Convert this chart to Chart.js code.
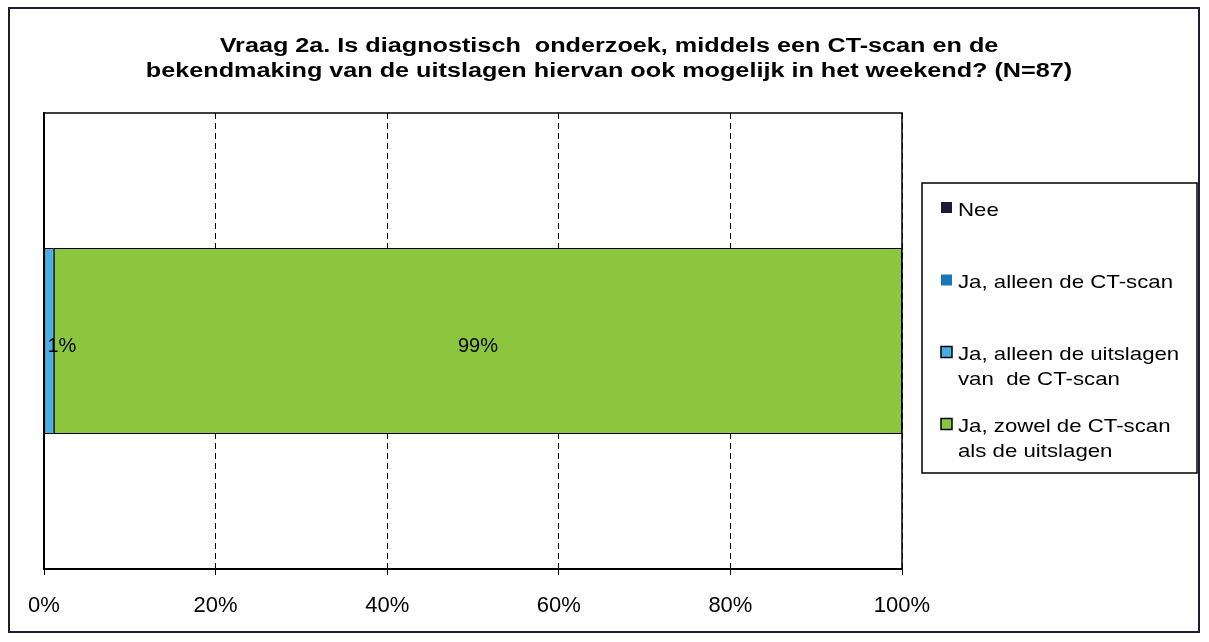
<!DOCTYPE html>
<html>
<head>
<meta charset="utf-8">
<script src="https://cdn.jsdelivr.net/npm/chart.js@4.4.0/dist/chart.umd.min.js"></script>
<style>
  html, body { margin: 0; padding: 0; background: #fff; }
  #wrap { position: relative; width: 1209px; height: 642px; }
</style>
</head>
<body>
<div id="wrap"><canvas id="ctChart" width="1209" height="642"></canvas></div>
<script>
// data
const categories = [''];
const seriesNames = [
    ['Nee'],
    ['Ja, alleen de CT-scan'],
    ['Ja, alleen de uitslagen', 'van  de CT-scan'],
    ['Ja, zowel de CT-scan', 'als de uitslagen']
];
const seriesValues = [
    [0],
    [0],
    [1.15],
    [98.85]
];
const seriesColors = ['#1c1a3a', '#1b75bb', '#48aee8', '#8cc63f'];
const seriesBorders = [0, 0, 1, 1];
const xTicks = [0, 20, 40, 60, 80, 100];
const titleLines = [
    'Vraag 2a. Is diagnostisch  onderzoek, middels een CT-scan en de',
    'bekendmaking van de uitslagen hiervan ook mogelijk in het weekend? (N=87)'
];

const FONT = '"Liberation Sans", Arial, sans-serif';

// tekst iets breder tekenen (zoals in het origineel)
function wideText(ctx, txt, x, y, sx) {
    ctx.save();
    ctx.translate(x, y);
    ctx.scale(sx, 1);
    ctx.fillText(txt, 0, 0);
    ctx.restore();
}

// buitenrand, titel en plotrand
const framePlugin = {
    id: 'frame',
    beforeDraw(chart) {
        const ctx = chart.ctx;
        ctx.save();
        ctx.fillStyle = '#fff';
        ctx.fillRect(0, 0, chart.width, chart.height);
        ctx.strokeStyle = '#1f1f33';
        ctx.lineWidth = 2;
        ctx.strokeRect(9, 8, 1190, 624);

        // titel
        ctx.fillStyle = '#000';
        ctx.font = 'bold 20px ' + FONT;
        ctx.textAlign = 'center';
        ctx.textBaseline = 'alphabetic';
        titleLines.forEach((line, i) => {
            wideText(ctx, line, 609, 51.5 + i * 25, 1.26);
        });
        ctx.restore();
    },
    beforeDatasetsDraw(chart) {
        const a = chart.chartArea;
        const ctx = chart.ctx;
        ctx.save();
        ctx.strokeStyle = '#000';
        ctx.lineWidth = 1.5;
        ctx.beginPath();
        ctx.moveTo(a.left, a.top);
        ctx.lineTo(a.right, a.top);
        ctx.lineTo(a.right, a.bottom);
        ctx.stroke();
        ctx.restore();
    }
};

// percentages in de balken
const labelPlugin = {
    id: 'barLabels',
    afterDatasetsDraw(chart) {
        const ctx = chart.ctx;
        ctx.save();
        ctx.font = '20px ' + FONT;
        ctx.fillStyle = '#000';
        ctx.textBaseline = 'middle';
        ctx.textAlign = 'center';
        chart.data.datasets.forEach((ds, i) => {
            const meta = chart.getDatasetMeta(i);
            meta.data.forEach((el, j) => {
                const v = ds.data[j];
                if (!v) return;
                const txt = Math.round(v) + '%';
                const w = ctx.measureText(txt).width;
                let cx = (el.x + el.base) / 2;
                cx = Math.max(cx, el.base + 3 + w / 2);
                ctx.fillText(txt, cx, el.y + 5);
            });
        });
        ctx.restore();
    }
};

// legenda rechts
const legendPlugin = {
    id: 'sideLegend',
    afterDraw(chart) {
        const ctx = chart.ctx;
        ctx.save();
        ctx.strokeStyle = '#000';
        ctx.lineWidth = 1.5;
        ctx.strokeRect(922, 183, 275, 290);
        const rows = [209, 281.5, 353.5, 425.5];
        ctx.font = '19px ' + FONT;
        ctx.textBaseline = 'alphabetic';
        ctx.textAlign = 'left';
        chart.data.datasets.forEach((ds, i) => {
            const y = rows[i];
            ctx.fillStyle = ds.backgroundColor;
            ctx.fillRect(941, y - 7, 11, 11);
            if (ds.borderWidth) {
                ctx.strokeStyle = '#000';
                ctx.lineWidth = 1.5;
                ctx.strokeRect(941, y - 7, 11, 11);
            }
            ctx.fillStyle = '#000';
            seriesNames[i].forEach((line, k) => {
                wideText(ctx, line, 958, y + 6.8 + k * 25, 1.17);
            });
        });
        ctx.restore();
    }
};

function initChart() {
    const chartContext = document.getElementById('ctChart');

    const datasets = seriesNames.map((name, i) => ({
        label: name.join(' '),
        data: seriesValues[i],
        backgroundColor: seriesColors[i],
        borderColor: '#000',
        borderWidth: seriesBorders[i],
        borderSkipped: false,
        barPercentage: 0.408,
        categoryPercentage: 1
    }));

    new Chart(chartContext, {
        type: 'bar',
        data: { labels: categories, datasets: datasets },
        options: {
            indexAxis: 'y',
            responsive: false,
            animation: false,
            layout: { padding: { left: 44, right: 307, top: 113, bottom: 0 } },
            scales: {
                x: {
                    stacked: true,
                    min: 0,
                    max: 100,
                    afterBuildTicks: axis => { axis.ticks = xTicks.map(v => ({ value: v })); },
                    afterFit: axis => { axis.height = 73; },
                    ticks: {
                        color: '#000',
                        font: { family: FONT, size: 22 },
                        padding: 18,
                        maxRotation: 0,
                        callback: v => v + '%'
                    },
                    grid: { color: '#000', lineWidth: 1, tickLength: 6 },
                    border: { display: true, color: '#000', width: 2, dash: [6, 4] }
                },
                y: {
                    stacked: true,
                    afterFit: axis => { axis.width = 0; },
                    ticks: { display: false },
                    grid: { display: false },
                    border: { display: true, color: '#000', width: 2 }
                }
            },
            plugins: {
                legend: { display: false },
                tooltip: { enabled: false },
                title: { display: false }
            }
        },
        plugins: [framePlugin, labelPlugin, legendPlugin]
    });
}

initChart();
</script>
</body>
</html>
